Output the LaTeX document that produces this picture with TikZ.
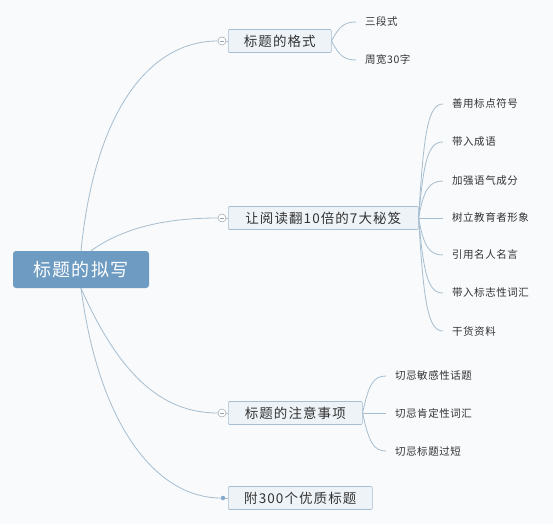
\documentclass[tikz,border=0pt]{standalone}
\usepackage{fontspec}
\setmainfont{Noto Sans CJK SC}
\usetikzlibrary{positioning}
\definecolor{bgcol}{HTML}{F8FAFB}
\definecolor{rootfill}{HTML}{6D9BC2}
\definecolor{topicfill}{HTML}{EEF3F7}
\definecolor{topicdraw}{HTML}{A9BDD0}
\definecolor{linkcol}{HTML}{A7BDD0}
\definecolor{togglecol}{HTML}{9AA5AE}
\definecolor{textcol}{HTML}{333333}
\tikzset{
  rootbox/.style={
    fill=rootfill,
    rounded corners=3pt,
    text=white,
    minimum width=136pt,
    minimum height=37pt,
    inner sep=0pt,
    font=\fontsize{18}{20}\selectfont\addfontfeature{LetterSpace=6}
  },
  topicbox/.style={
    draw=topicdraw,
    fill=topicfill,
    line width=0.6pt,
    rounded corners=1pt,
    text=textcol,
    minimum height=23pt,
    inner xsep=10pt,
    inner ysep=0pt,
    anchor=west,
    font=\fontsize{13.5}{15}\selectfont\addfontfeature{LetterSpace=8}
  },
  leafnode/.style={
    text=textcol,
    inner xsep=9pt,
    inner ysep=1pt,
    anchor=west,
    font=\fontsize{10.5}{12}\selectfont\addfontfeature{LetterSpace=5}
  },
  togglenode/.style={
    circle,
    draw=togglecol,
    fill=white,
    line width=0.5pt,
    minimum size=8pt,
    inner sep=0pt,
    path picture={\draw[togglecol, line width=0.5pt]
      ([xshift=1.6pt]path picture bounding box.west) --
      ([xshift=-1.6pt]path picture bounding box.east);}
  },
  enddot/.style={
    circle,
    fill=rootfill!85,
    minimum size=4.5pt,
    inner sep=0pt
  },
  mainlink/.style={
    draw=linkcol,
    line width=0.8pt
  },
  leaflink/.style={
    draw=linkcol,
    line width=0.8pt
  }
}

\begin{document}
\begin{tikzpicture}[x=1pt, y=-1pt]
  \useasboundingbox[fill=bgcol] (0,0) rectangle (553,524);

  % central topic
  \node[rootbox] (root) at (81,269.5) {标题的拟写};

  % main branches
  \node[topicbox, minimum width=103pt] (format) at (228,41) {标题的格式};
  \node[topicbox, minimum width=190pt] (secrets) at (228,218) {让阅读翻10倍的7大秘笈};
  \node[topicbox, minimum width=134pt] (notes) at (228,413) {标题的注意事项};
  \node[topicbox, minimum width=144pt] (samples) at (228,498) {附300个优质标题};

  \node[togglenode] (tformat) at (222,41) {};
  \node[togglenode] (tsecrets) at (222,218) {};
  \node[togglenode] (tnotes) at (222,413) {};
  \node[enddot] (tsamples) at (223,498) {};

  \draw[mainlink] (root.north) .. controls (95,110) and (150,41) .. (tformat.west);
  \draw[mainlink] ([xshift=10pt]root.north) .. controls (120,230) and (160,218) .. (tsecrets.west);
  \draw[mainlink] (root.south) .. controls (118,372) and (160,413) .. (tnotes.west);
  \draw[mainlink] (root.south) .. controls (100,432) and (160,498) .. (tsamples.west);
  \draw[mainlink] (tformat) -- (format);
  \draw[mainlink] (tsecrets) -- (secrets);
  \draw[mainlink] (tnotes) -- (notes);
  \draw[mainlink] (tsamples) -- (samples);

  % leaves of the format branch
  \node[leafnode] (threepart) at (356,22) {三段式};
  \node[leafnode] (width) at (356,60) {周宽30字};
  \draw[leaflink] (format.east) .. controls +(7,-14) and +(-12,0) .. (threepart.west);
  \draw[leaflink] (format.east) .. controls +(7,14) and +(-12,0) .. (width.west);

  % leaves of the secrets branch
  \node[leafnode] (punct) at (443,104) {善用标点符号};
  \node[leafnode] (idiom) at (443,142) {带入成语};
  \node[leafnode] (tone) at (443,181) {加强语气成分};
  \node[leafnode] (teacher) at (443,218) {树立教育者形象};
  \node[leafnode] (quote) at (443,255) {引用名人名言};
  \node[leafnode] (keyword) at (443,293) {带入标志性词汇};
  \node[leafnode] (dry) at (443,331) {干货资料};
  \draw[leaflink] (secrets.east) .. controls +(5,-85) and +(-15,0) .. (punct.west);
  \draw[leaflink] (secrets.east) .. controls +(5,-57) and +(-15,0) .. (idiom.west);
  \draw[leaflink] (secrets.east) .. controls +(5,-28) and +(-14,0) .. (tone.west);
  \draw[leaflink] (secrets.east) -- (teacher.west);
  \draw[leaflink] (secrets.east) .. controls +(5,28) and +(-14,0) .. (quote.west);
  \draw[leaflink] (secrets.east) .. controls +(5,56) and +(-15,0) .. (keyword.west);
  \draw[leaflink] (secrets.east) .. controls +(5,85) and +(-15,0) .. (dry.west);

  % leaves of the notes branch
  \node[leafnode] (sensitive) at (386,376) {切忌敏感性话题};
  \node[leafnode] (certain) at (386,413) {切忌肯定性词汇};
  \node[leafnode] (tooshort) at (386,451) {切忌标题过短};
  \draw[leaflink] (notes.east) .. controls +(6,-28) and +(-13,0) .. (sensitive.west);
  \draw[leaflink] (notes.east) -- (certain.west);
  \draw[leaflink] (notes.east) .. controls +(6,28) and +(-13,0) .. (tooshort.west);
\end{tikzpicture}
\end{document}
